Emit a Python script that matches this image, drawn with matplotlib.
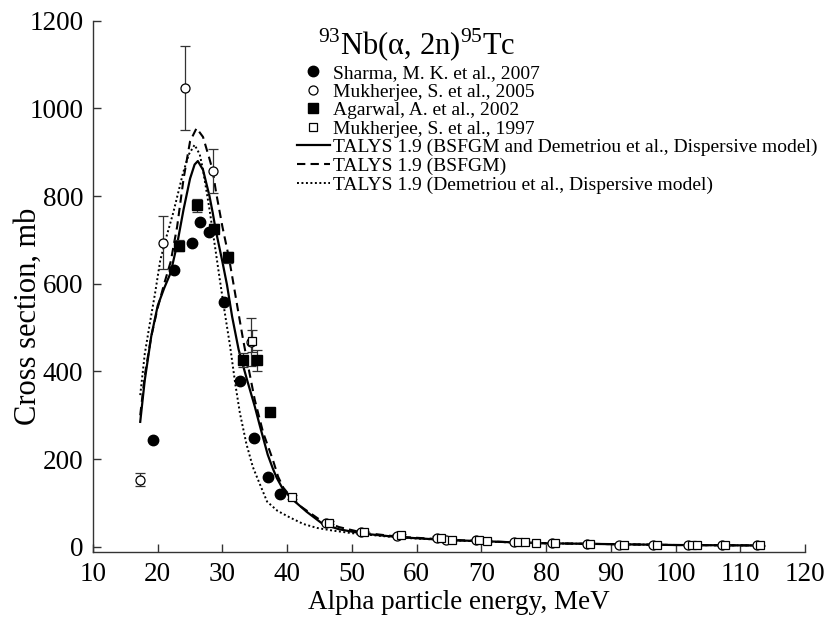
import matplotlib
matplotlib.use("Agg")
import matplotlib.pyplot as plt
import numpy as np

plt.rcParams['font.family'] = ['Liberation Serif', 'DejaVu Serif']
plt.rcParams['mathtext.fontset'] = 'custom'
plt.rcParams['mathtext.rm'] = 'Liberation Serif'

# Sharma, M. K. et al., 2007 (filled circles)
sharma_E = [19.3, 22.5, 25.3, 26.5, 27.9, 30.2, 32.7, 34.9, 37.0, 38.9]
sharma_s = [244, 632, 693, 741, 718, 559, 379, 249, 160, 121]

# Mukherjee, S. et al., 2005 (open circles)
muk05_E = [17.3, 20.8, 24.2, 28.5, 34.4, 46.0, 51.4, 57.0, 63.2, 64.6, 69.1, 75.0, 80.9, 86.3, 91.3, 96.6, 102.0, 107.2, 112.6]
muk05_s = [153, 694, 1046, 858, 467, 55, 34, 25, 21, 16, 16, 12, 9, 7, 5, 5, 4, 3, 3]
muk05_e = [15, 60, 96, 50, 55, 4, 4, 3, 3, 2, 2, 2, 2, 1, 1, 1, 1, 1, 1]

# Agarwal, A. et al., 2002 (filled squares)
agar_E = [23.3, 26.1, 28.7, 30.9, 33.2, 35.3, 37.4]
agar_s = [687, 779, 725, 660, 426, 425, 307]
agar_e = [12, 15, 12, 12, 15, 25, 8]

# Mukherjee, S. et al., 1997 (open squares)
muk97_E = [34.6, 40.8, 46.4, 51.8, 57.6, 63.8, 65.4, 69.7, 70.9, 75.6, 76.8, 78.4, 81.4, 86.8, 92.0, 97.2, 102.6, 103.3, 107.7, 113.0]
muk97_s = [470, 114, 55, 34, 26, 21, 15, 16, 13, 12, 10, 9, 8, 7, 5, 5, 4, 4, 3, 3]
muk97_e = [25, 5, 4, 3, 3, 2, 2, 2, 2, 1, 1, 1, 1, 1, 1, 1, 1, 1, 1, 1]

# TALYS 1.9 (BSFGM and Demetriou et al., Dispersive model) - solid
solid_E = [17.3, 18.0, 19.0, 20.0, 21.0, 22.0, 23.0, 24.0, 25.0, 25.7, 26.2, 27.0, 28.0, 28.5, 29.0, 30.0,
           30.7, 31.5, 32.5, 33.8, 35.0, 35.8, 37.0, 37.8, 38.4, 39.4, 40.9, 43.0, 45.5, 48.0, 51.7, 57.2,
           65.0, 70.0, 75.0, 80.0, 90.0, 100.0, 113.0]
solid_s = [285, 380, 480, 550, 590, 625, 690, 770, 840, 872, 880, 860, 800, 762, 720, 650,
           598, 525, 450, 381, 320, 275, 210, 178, 157, 130, 107, 80, 52, 40, 30, 22,
           15, 13, 10, 8, 6, 4, 3]

# TALYS 1.9 (BSFGM) - dashed
dash_E = [17.3, 18.0, 19.0, 20.0, 21.0, 22.0, 23.0, 24.0, 25.0, 26.0, 27.0, 28.0, 28.5, 29.0, 30.0,
          31.0, 31.6, 32.4, 33.2, 34.0, 35.0, 36.3, 37.8, 38.6, 39.4, 40.5, 42.0, 45.0, 48.0, 51.7, 57.2,
          65.0, 70.0, 75.0, 80.0, 90.0, 100.0, 113.0]
dash_s = [300, 390, 480, 545, 600, 650, 730, 840, 925, 955, 935, 885, 858, 810, 730,
          660, 609, 540, 472, 410, 335, 260, 198, 160, 135, 115, 93, 62, 45, 32, 23,
          16, 13, 10, 8, 6, 4, 3]

# TALYS 1.9 (Demetriou et al., Dispersive model) - dotted
dot_E = [17.3, 18.0, 18.8, 19.6, 20.4, 21.4, 22.4, 23.9, 24.8, 25.7, 26.5, 27.0, 28.0, 29.0, 29.6,
         30.3, 31.2, 32.0, 32.7, 33.7, 34.7, 35.5, 36.9, 38.5, 40.4, 42.5, 44.6, 47.0, 50.0, 57.2,
         65.0, 70.0, 75.0, 80.0, 90.0, 100.0, 113.0]
dot_s = [346, 440, 511, 579, 654, 710, 762, 852, 895, 917, 895, 860, 770, 670, 609,
         540, 456, 370, 305, 235, 182, 153, 103, 82, 67, 52, 43, 37, 31, 21,
         15, 12, 10, 8, 6, 4, 3]

fig = plt.figure(figsize=(8.25, 6.17), dpi=100)
ax = fig.add_axes([0.1127, 0.1053, 0.863, 0.861])

lc = 'black'
l1, = ax.plot(solid_E, solid_s, '-', color=lc, lw=1.6, zorder=2)
l2, = ax.plot(dash_E, dash_s, '--', color=lc, lw=1.5, dashes=(4, 2.5), zorder=2)
l3, = ax.plot(dot_E, dot_s, ':', color=lc, lw=1.4, dashes=(1, 1.3), zorder=2)

eb_kw = dict(ecolor='#333333', elinewidth=0.9, capsize=3.5, capthick=0.9, zorder=3)
c1, = ax.plot(sharma_E, sharma_s, 'o', color='black', ms=7.5, zorder=4)
e2 = ax.errorbar(muk05_E, muk05_s, yerr=muk05_e, fmt='o', mfc='white', mec='black',
                 mew=0.9, ms=6.5, **eb_kw)
e3 = ax.errorbar(agar_E, agar_s, yerr=agar_e, fmt='s', mfc='black', mec='black',
                 ms=6.5, **eb_kw)
e4 = ax.errorbar(muk97_E, muk97_s, yerr=muk97_e, fmt='s', mfc='white', mec='black',
                 mew=0.9, ms=6, **eb_kw)

ax.set_xlim(10, 120)
ax.set_ylim(-12, 1200)
ax.set_xticks(np.arange(10, 121, 10))
ax.set_yticks(np.arange(0, 1201, 200))
for s in ['top', 'right']:
    ax.spines[s].set_visible(False)
for s in ['left', 'bottom']:
    ax.spines[s].set_linewidth(1.0)
    ax.spines[s].set_color('#333333')
ax.tick_params(direction='in', length=6, width=1.0, labelsize=19.5, color='#333333', pad=7)

ax.set_xlabel('Alpha particle energy, MeV', fontsize=19.5)
ax.xaxis.set_label_coords(0.514, -0.072)
ax.set_ylabel('Cross section, mb', fontsize=22)
ax.yaxis.set_label_coords(-0.07, 0.443)

ax.text(0.316, 0.954, r'$^{93}$Nb(α, 2n)$^{95}$Tc', transform=ax.transAxes,
        fontsize=22, va='center', ha='left')

handles = [c1, e2.lines[0], e3.lines[0], e4.lines[0], l1, l2, l3]
labels = ['Sharma, M. K. et al., 2007', 'Mukherjee, S. et al., 2005', 'Agarwal, A. et al., 2002',
          'Mukherjee, S. et al., 1997', 'TALYS 1.9 (BSFGM and Demetriou et al., Dispersive model)',
          'TALYS 1.9 (BSFGM)', 'TALYS 1.9 (Demetriou et al., Dispersive model)']
leg = ax.legend(handles, labels, loc='upper left', bbox_to_anchor=(0.2865, 0.918), frameon=False,
                fontsize=14, handlelength=1.7, handletextpad=0.15, labelspacing=0.05,
                borderaxespad=0, borderpad=0)

fig.savefig('out.png', dpi=100)
